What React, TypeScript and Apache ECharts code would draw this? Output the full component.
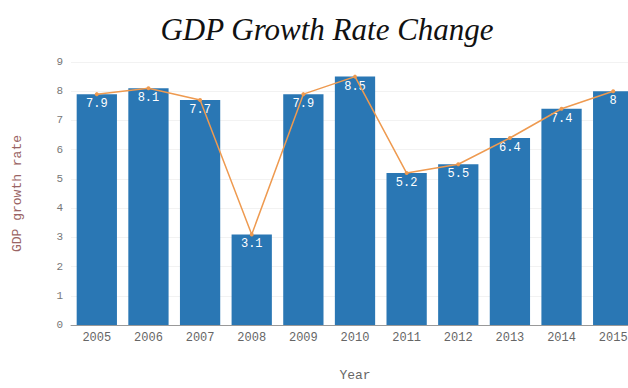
import React, { useEffect, useRef } from "react";
import * as echarts from "echarts";

const years = ["2005", "2006", "2007", "2008", "2009", "2010", "2011", "2012", "2013", "2014", "2015"];
const growth = [7.9, 8.1, 7.7, 3.1, 7.9, 8.5, 5.2, 5.5, 6.4, 7.4, 8];
const mono = "'Liberation Mono', 'DejaVu Sans Mono', monospace";

export default function App() {
  const ref = useRef<HTMLDivElement>(null);
  useEffect(() => {
    const chart = echarts.init(ref.current!, null, { renderer: "svg" });
    chart.setOption({
      animation: false,
      title: {
        text: "GDP Growth Rate Change",
        left: 322,
        textAlign: "center",
        top: 9,
        textStyle: {
          fontFamily: "'Liberation Serif', 'Times New Roman', serif",
          fontStyle: "italic",
          fontWeight: "normal",
          fontSize: 31,
          color: "#111",
        },
      },
      grid: { left: 71, right: 2, top: 62, bottom: 63 },
      xAxis: {
        type: "category",
        data: years,
        name: "Year",
        nameLocation: "middle",
        nameGap: 44,
        nameTextStyle: { fontFamily: mono, fontSize: 13, color: "#666" },
        axisTick: { show: false },
        axisLine: { lineStyle: { color: "#999" } },
        axisLabel: { fontFamily: mono, fontSize: 12, color: "#666", margin: 7 },
      },
      yAxis: {
        type: "value",
        min: 0,
        max: 9,
        interval: 1,
        name: "GDP growth rate",
        nameLocation: "middle",
        nameGap: 47,
        nameTextStyle: { fontFamily: mono, fontSize: 13, color: "#9a6464" },
        axisLabel: { fontFamily: mono, fontSize: 11, color: "#777", margin: 8 },
        splitLine: { lineStyle: { color: "#f2f2f2" } },
        axisLine: { show: false },
      },
      series: [
        {
          type: "bar",
          data: growth,
          barCategoryGap: "22%",
          itemStyle: { color: "#2a77b4" },
          label: {
            show: true,
            position: "insideTop",
            distance: 4,
            color: "#fff",
            fontFamily: mono,
            fontSize: 12,
          },
          z: 2,
        },
        {
          type: "line",
          data: growth,
          symbol: "circle",
          symbolSize: 4,
          lineStyle: { color: "#ee9a50", width: 1.5 },
          itemStyle: { color: "#ee9a50" },
          z: 3,
        },
      ],
    });
    return () => chart.dispose();
  }, []);
  return (
    <div style={{ width: 628, height: 388, position: "absolute", left: 0, top: 0, overflow: "hidden" }}>
      <div ref={ref} style={{ width: 641, height: 388 }} />
    </div>
  );
}
